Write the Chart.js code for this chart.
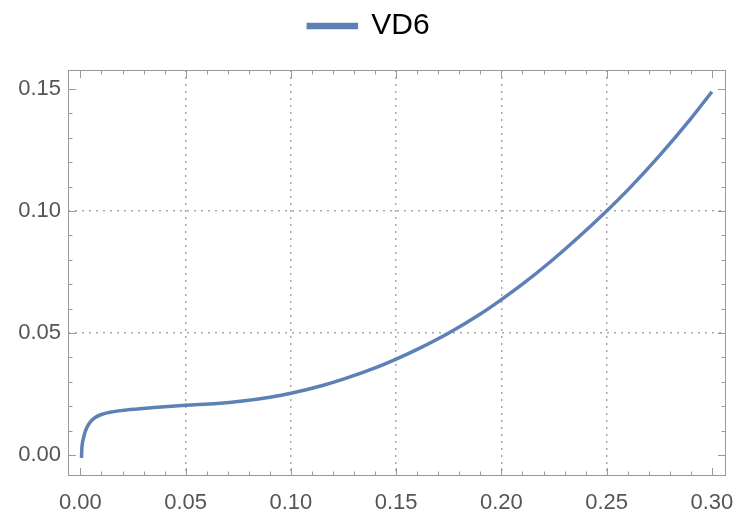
<!DOCTYPE html>
<html>
<head>
<meta charset="utf-8">
<script src="https://cdn.jsdelivr.net/npm/chart.js@4"></script>
<style>
  html, body { margin: 0; padding: 0; background: #fff; }
  #wrap { width: 738px; height: 509px; }
</style>
</head>
<body>
<div id="wrap"><canvas id="chart" width="738" height="509"></canvas></div>
<script>
// values
const seriesName = 'VD6';
const xValues = [0.0005, 0.0007, 0.0012, 0.002, 0.003, 0.005, 0.007, 0.010, 0.014, 0.020,
    0.027, 0.035, 0.050, 0.065, 0.076, 0.090, 0.100, 0.115, 0.126, 0.140,
    0.150, 0.161, 0.175, 0.190, 0.200, 0.210, 0.223, 0.235, 0.249, 0.261,
    0.275, 0.290, 0.300];
const yValues = [-0.0012, 0.0030, 0.0060, 0.0088, 0.0112, 0.0139, 0.0154, 0.0166, 0.0175, 0.0183,
    0.0189, 0.0195, 0.0204, 0.0211, 0.0220, 0.0237, 0.0253, 0.0285, 0.0314, 0.0357,
    0.0393, 0.0437, 0.0500, 0.0578, 0.0637, 0.0700, 0.0790, 0.0880, 0.0992, 0.1095,
    0.1226, 0.1379, 0.1489];
const xTicks = [0.00, 0.05, 0.10, 0.15, 0.20, 0.25, 0.30];
const yTicks = [0.00, 0.05, 0.10, 0.15];

const lineColor = '#5e81b5';
const frameColor = '#9a9a9a';
const labelColor = '#555555';

const points = xValues.map((x, i) => ({ x: x, y: yValues[i] }));

function near(v, list) {
    return list.some(t => Math.abs(t - v) < 1e-6);
}

// Mathematica style frame: inward ticks on all four sides
const framePlugin = {
    id: 'frame',
    afterDraw(chart) {
        const { ctx, chartArea: a, scales } = chart;
        const xs = scales.x, ys = scales.y;
        ctx.save();
        ctx.strokeStyle = frameColor;
        ctx.lineWidth = 1;
        ctx.strokeRect(a.left + 0.5, a.top + 0.5, a.right - a.left - 1, a.bottom - a.top - 1);
        ctx.beginPath();
        for (let i = 0; i <= 30; i++) {
            const v = i / 100;
            const len = i % 5 === 0 ? 8 : 4.5;
            const px = Math.round(xs.getPixelForValue(v)) + 0.5;
            ctx.moveTo(px, a.bottom); ctx.lineTo(px, a.bottom - len);
            ctx.moveTo(px, a.top); ctx.lineTo(px, a.top + len);
        }
        for (let i = 0; i <= 15; i++) {
            const v = i / 100;
            const len = i % 5 === 0 ? 8 : 4.5;
            const py = Math.round(ys.getPixelForValue(v)) + 0.5;
            ctx.moveTo(a.left, py); ctx.lineTo(a.left + len, py);
            ctx.moveTo(a.right, py); ctx.lineTo(a.right - len, py);
        }
        ctx.stroke();
        ctx.restore();
    }
};

// extra room under the legend, legend nudged a bit right
const legendPad = {
    id: 'legendPad',
    beforeInit(chart) {
        const fit = chart.legend.fit;
        chart.legend.fit = function () {
            fit.call(this);
            this.height += 19;
        };
    },
    afterLayout(chart) {
        chart.legend.left += 6;
        chart.legend.right += 6;
    }
};

new Chart(document.getElementById('chart'), {
    type: 'line',
    data: {
        datasets: [{
            label: seriesName,
            data: points,
            borderColor: lineColor,
            backgroundColor: lineColor,
            borderWidth: 3.5,
            pointRadius: 0,
            cubicInterpolationMode: 'monotone',
            fill: false
        }]
    },
    options: {
        responsive: false,
        animation: false,
        layout: { padding: { top: 1, right: 12, left: 0, bottom: 0 } },
        plugins: {
            legend: {
                display: true,
                position: 'top',
                labels: {
                    boxWidth: 48,
                    boxHeight: 3,
                    padding: 10,
                    color: '#000',
                    font: { family: 'Liberation Sans, Arial, sans-serif', size: 30 }
                }
            },
            tooltip: { enabled: false }
        },
        scales: {
            x: {
                type: 'linear',
                min: -0.0059,
                max: 0.3067,
                afterFit: s => { s.height = 33; s.paddingRight = 0; s.paddingLeft = 0; },
                afterBuildTicks: s => { s.ticks = xTicks.map(v => ({ value: v })); },
                ticks: {
                    padding: 14,
                    color: labelColor,
                    font: { family: 'Liberation Sans, Arial, sans-serif', size: 22 },
                    callback: v => v.toFixed(2)
                },
                border: { display: false, dash: [2, 5] },
                grid: {
                    drawTicks: false,
                    lineWidth: 1.5,
                    color: c => near(c.tick.value, [0.05, 0.10, 0.15, 0.20, 0.25]) ? '#a8a8a8' : 'rgba(0,0,0,0)'
                }
            },
            y: {
                type: 'linear',
                min: -0.0086,
                max: 0.1578,
                afterFit: s => { s.width = 68; },
                afterBuildTicks: s => { s.ticks = yTicks.map(v => ({ value: v })); },
                ticks: {
                    padding: 7,
                    color: labelColor,
                    font: { family: 'Liberation Sans, Arial, sans-serif', size: 22 },
                    callback: v => v.toFixed(2)
                },
                border: { display: false, dash: [2, 5] },
                grid: {
                    drawTicks: false,
                    lineWidth: 1.5,
                    color: c => near(c.tick.value, [0.05, 0.10]) ? '#a8a8a8' : 'rgba(0,0,0,0)'
                }
            }
        }
    },
    plugins: [framePlugin, legendPad]
});
</script>
</body>
</html>
